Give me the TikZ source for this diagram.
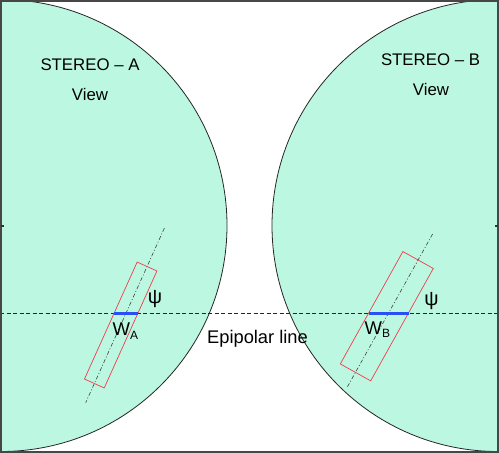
\documentclass[tikz,border=0pt]{standalone}
\usepackage{fontspec}
\setmainfont{Liberation Sans}
\begin{document}
\begin{tikzpicture}[x=1pt,y=-1pt,
  disk/.style={fill=mint,draw=black!85,line width=0.8pt},
  win/.style={draw=winred,line width=0.7pt},
  axisline/.style={draw=black!75,line width=0.6pt,dash pattern=on 4pt off 2pt on 1pt off 2pt},
  epi/.style={draw=black!85,line width=0.6pt,dash pattern=on 4pt off 2.5pt},
  wid/.style={draw=wblue,line width=3pt},
  lab/.style={font=\fontsize{16.8}{19}\selectfont,inner sep=0pt},
  sym/.style={font=\fontsize{18.5}{20}\selectfont,inner sep=0pt}]
\definecolor{mint}{RGB}{188,248,225}
\definecolor{winred}{RGB}{240,60,80}
\definecolor{wblue}{RGB}{40,80,245}
\useasboundingbox (0,0) rectangle (499,453);
\begin{scope}
  \clip (1,1) rectangle (498,452);
  \fill[white] (0,0) rectangle (499,453);
  \draw[disk] (1,225.5) circle[radius=226];
  \draw[disk] (498,225.5) circle[radius=226];
  \coordinate (eL) at (0,313);
  \coordinate (eR) at (499,313);
  \draw[epi] (eL) -- (eR);
\end{scope}
% left window
\coordinate (a1) at (137.16,262.05);
\coordinate (a2) at (156.94,270.97);
\coordinate (a3) at (104.24,387.95);
\coordinate (a4) at (84.46,379.03);
\coordinate (at) at (164.4,228);
\coordinate (ab) at (85.7,402.7);
\draw[axisline] (at) -- (ab);
\draw[win] (a1) -- (a2) -- (a3) -- (a4) -- cycle;
\coordinate (wa1) at (114,313);
\coordinate (wa2) at (138,313);
\draw[wid] (wa1) -- (wa2);
% right window
\coordinate (b1) at (402.9,251.54);
\coordinate (b2) at (433.3,268.46);
\coordinate (b3) at (370.7,380.86);
\coordinate (b4) at (340.3,363.94);
\coordinate (bt) at (432.6,234);
\coordinate (bb) at (347.5,386.7);
\draw[axisline] (bt) -- (bb);
\draw[win] (b1) -- (b2) -- (b3) -- (b4) -- cycle;
\coordinate (wb1) at (369,313);
\coordinate (wb2) at (408.5,313);
\draw[wid] (wb1) -- (wb2);
% labels
\node[lab] (sa) at (90,65) {STEREO – A};
\node[lab] (va) at (90,94) {View};
\node[lab] (sb) at (430.5,60) {STEREO – B};
\node[lab] (vb) at (431,89) {View};
\node[lab,font=\fontsize{18.3}{20}\selectfont] (ep) at (257.5,339) {Epipolar line};
\node[sym,font=\fontsize{20}{22}\selectfont] (pa) at (155,299) {ψ};
\node[sym,font=\fontsize{20}{22}\selectfont] (pb) at (431.5,301) {ψ};
\node[sym,anchor=base west] (wa) at (112.5,335.5) {W\raisebox{-3.5pt}{\fontsize{12}{13}\selectfont A}};
\node[sym,anchor=base west] (wb) at (364.5,334) {W\raisebox{-3.5pt}{\fontsize{12}{13}\selectfont B}};
% frame
\draw[draw=black!72,line width=2pt] (1,1) rectangle (498,452);
\coordinate (tl) at (1,226);
\coordinate (tl2) at (4,226);
\coordinate (tr) at (498,226);
\coordinate (tr2) at (495,226);
\draw[line width=1.5pt,black!80] (tl) -- (tl2);
\draw[line width=1.5pt,black!80] (tr) -- (tr2);
\end{tikzpicture}
\end{document}
